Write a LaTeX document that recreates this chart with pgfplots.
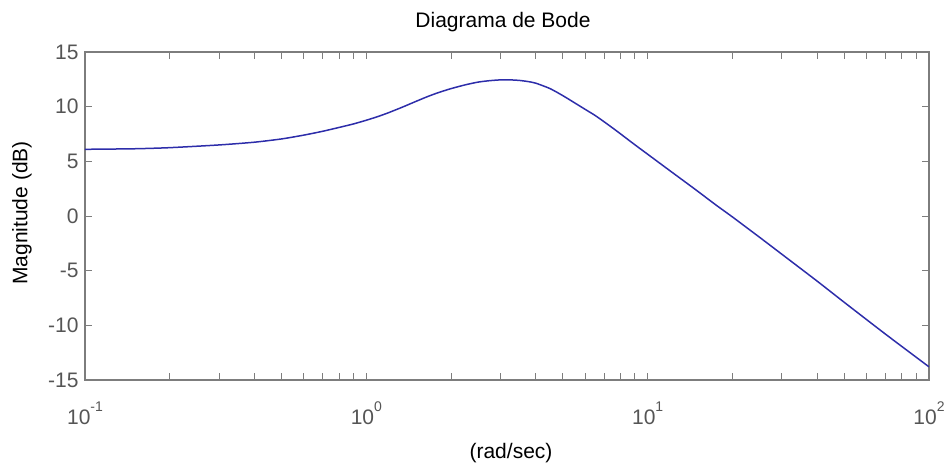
\documentclass[border=0pt]{standalone}
\usepackage{fontspec}
\setmainfont{Liberation Sans}
\usepackage{pgfplots}
\pgfplotsset{compat=1.18}
\usetikzlibrary{calc}
\definecolor{axgray}{RGB}{125,125,125}
\definecolor{lblgray}{RGB}{85,85,85}
\definecolor{bodeblue}{RGB}{45,45,170}
\newcommand{\expo}[1]{\raisebox{0.6em}{\fontsize{14}{14}\selectfont #1}}
\begin{document}
\begin{tikzpicture}[font=\fontsize{21}{25}\selectfont]
\begin{axis}[
  name=ax, scale only axis, width=844pt, height=328pt,
  xmode=log, xmin=0.1, xmax=100, ymin=-15, ymax=15,
  xtick={0.1,1,10,100},
  xticklabels={10\expo{-1},10\expo{0},10\expo{1},10\expo{2}},
  minor xtick={0.2,0.3,0.4,0.5,0.6,0.7,0.8,0.9,2,3,4,5,6,7,8,9,20,30,40,50,60,70,80,90},
  ytick={-15,-10,-5,0,5,10,15},
  yticklabels={-15,-10,-5,0,5,10,15},
  tick align=inside, tick pos=both,
  major tick length=7pt, minor tick length=7pt,
  axis line style={axgray, line width=1.3pt},
  every tick/.style={axgray, line width=1pt},
  tick label style={lblgray},
  xticklabel style={anchor=base, yshift=-44pt},
  yticklabel style={xshift=-3pt},
  title={Diagrama de Bode},
  title style={at={(axis description cs:0.5,1)}, anchor=base, yshift=19pt, xshift=-4pt},
  xlabel={(rad/sec)},
  xlabel style={at={(axis description cs:0.5,0)}, anchor=base, yshift=-78pt, xshift=4pt, black},
  ylabel={Magnitude (dB)},
  ylabel style={at={(axis description cs:-0.0746,0.509)}, anchor=center, black},
]
\addplot[bodeblue, line width=1.5pt, smooth, tension=0.4] table {
x y
0.1 6.1
0.15 6.15
0.2 6.25
0.3 6.5
0.4 6.75
0.5 7.05
0.6 7.4
0.7 7.75
0.8 8.1
0.9 8.42
1.0 8.76
1.1 9.1
1.2 9.45
1.35 9.98
1.5 10.48
1.65 10.92
1.8 11.28
2.0 11.65
2.25 12.0
2.5 12.25
2.75 12.38
3.0 12.45
3.25 12.45
3.5 12.4
3.75 12.3
4.0 12.15
4.5 11.65
5.0 11.0
5.5 10.35
6.0 9.75
6.5 9.2
7.0 8.62
7.5 8.06
8.0 7.52
9.0 6.52
10 5.65
11 4.86
12 4.14
13.5 3.17
15 2.3
17.5 1.0
20 -0.08
25 -1.95
30 -3.5
40 -5.95
50 -7.9
70 -10.8
100 -13.8
};
\end{axis}
\pgfresetboundingbox
\path[use as bounding box] ($(ax.south west)+(-85pt,-83pt)$) rectangle ($(ax.south west)+(864pt,380pt)$);
\end{tikzpicture}
\end{document}
